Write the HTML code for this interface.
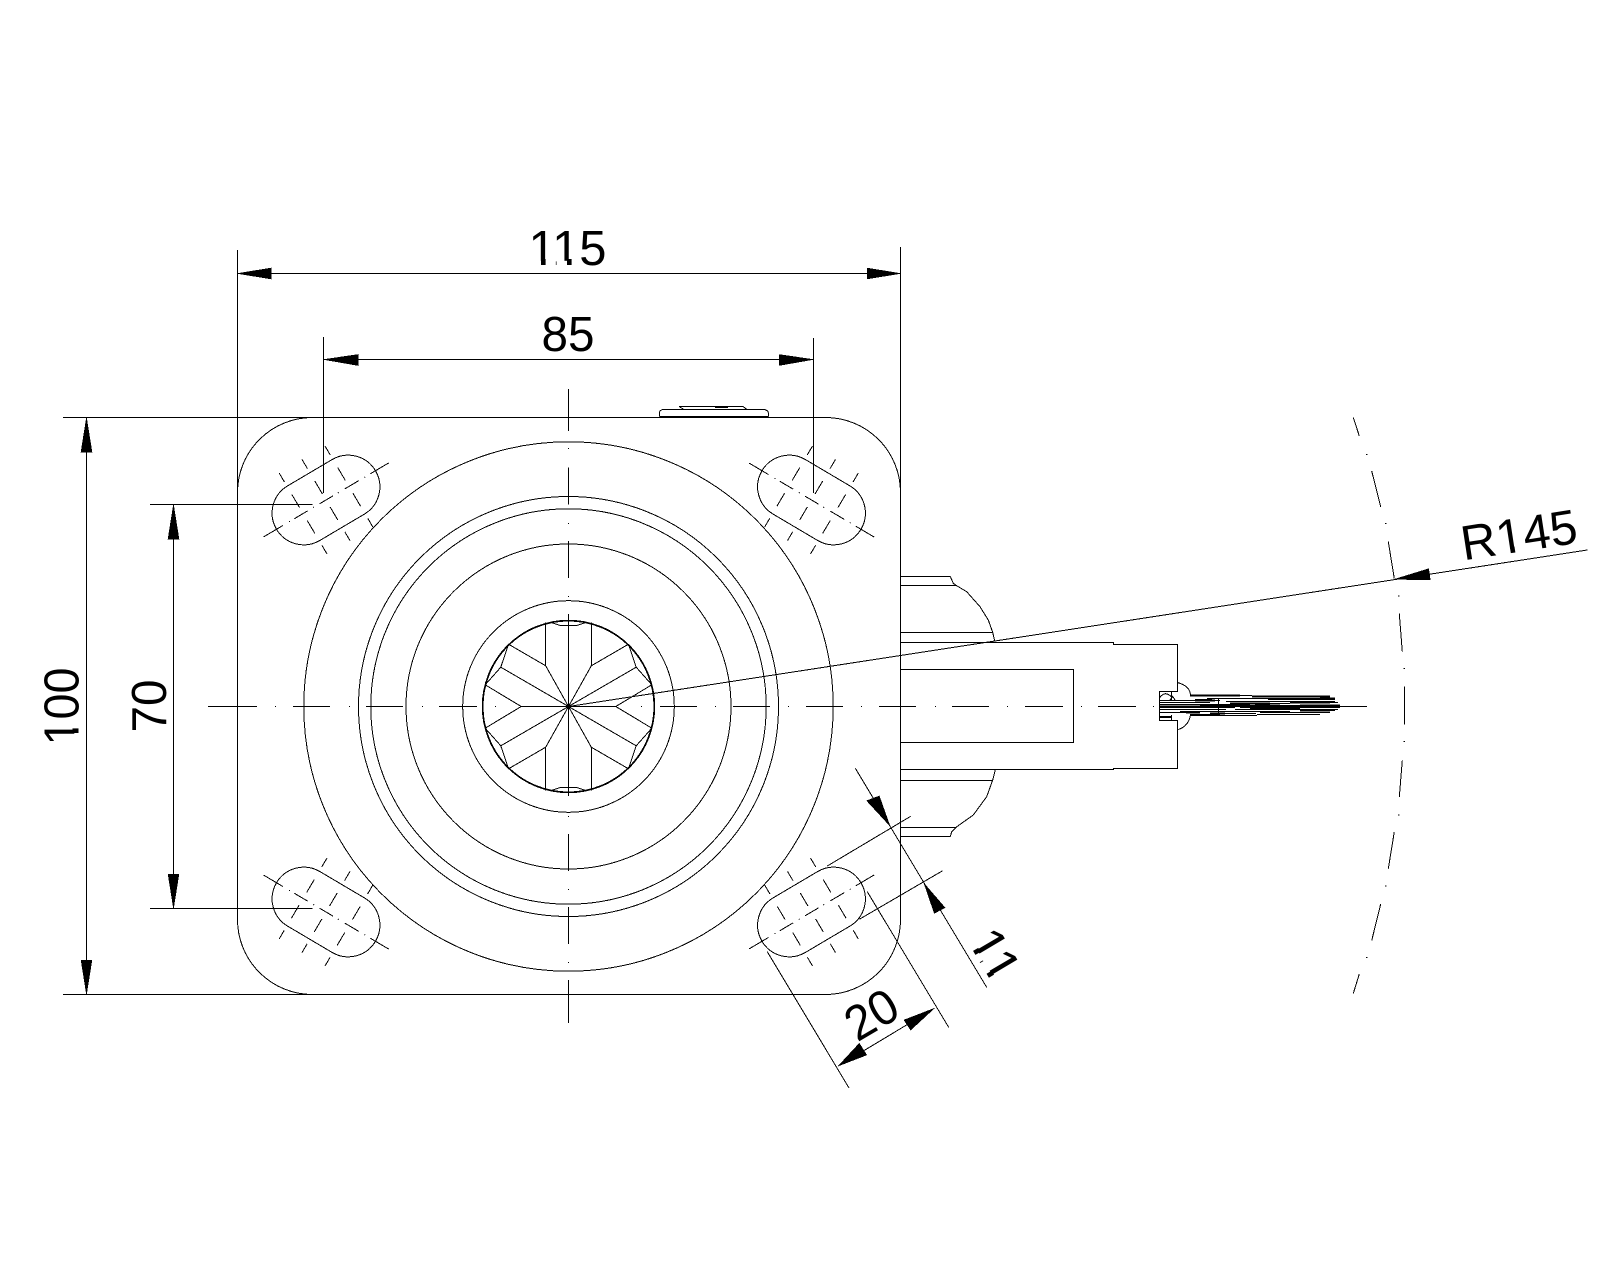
<!DOCTYPE html>
<html>
<head>
<meta charset="utf-8">
<title>Drawing</title>
<style>
html,body{margin:0;padding:0;background:#fff;width:1600px;height:1280px;overflow:hidden}
svg{display:block}
text{font-family:"Liberation Sans",sans-serif;font-size:49px;fill:#000;text-anchor:middle}
.g{fill:none;stroke:#000;stroke-width:1;shape-rendering:crispEdges}
.a{fill:#000;stroke:#000;stroke-width:.5;shape-rendering:crispEdges}
</style>
</head>
<body>
<svg xmlns="http://www.w3.org/2000/svg" width="1600" height="1280" viewBox="0 0 1600 1280">
<rect width="1600" height="1280" fill="#fff"/>
<defs>
<g id="slot">
<rect x="-57.5" y="-31.7" width="115" height="63.4" rx="31.7" ry="31.7"/>
<path d="M-72.5 0H-50M-42.8 0H-41.8M-36.8 0H-21.3M-14.8 0H-13.8M-7.4 0H8.1M13.8 0H14.8M21.7 0H38M44.4 0H45.4M51.6 0H72.9"/>
<path d="M-26.6 -47V-36.6M-26.6 -22V-7M-26.6 8V23M-26.6 37V47"/>
<path d="M0 -47V-36.6M0 -22V-7M0 8V23M0 37V47"/>
<path d="M26.6 -47V-36.6M26.6 -22V-7M26.6 8V23M26.6 37V47"/>
</g>
<g id="q">
<path d="M-22.8 -84V-40.7L0 0M-60 -62.3L-22.8 -40.7M-67.7 -39.3L0 0M-83.3 -21.7L-47.3 0M-60 -62.3L-67.7 -39.3L-83.3 -21.7"/>
<path d="M-17.3 -84L-8.3 -81H0"/>
</g>
</defs>

<g class="g">
<!-- plate outline -->
<path d="M237.5 250V919A75 75 0 0 0 312.5 994.5M237.5 492.5A75 75 0 0 1 312.5 417.5M63 417.5H825.5A75 75 0 0 1 900.5 492.5V247M900.5 492.5V919A75 75 0 0 1 825.5 994.5H63"/>
<!-- plate knob -->
<path d="M659.5 416.5V413Q659.5 409.5 664 409.5H763Q768.5 409.5 768.5 414V416.5M659.5 416.5H768.5M659.5 417.5H768.5M679 406.5H743L747 409.5M679 406.5L684 409.5M701.7 409.5H715M715 407.5H728"/>
<!-- circles -->
<circle cx="568.5" cy="706.5" r="264.7"/>
<circle cx="568.5" cy="706.5" r="210"/>
<circle cx="568.5" cy="706.5" r="197.7"/>
<circle cx="568.5" cy="706.5" r="162.5"/>
<circle cx="568.5" cy="706.5" r="105.8"/>
<circle cx="568.5" cy="706.5" r="86.2"/>
<circle cx="568.5" cy="706.5" r="85.5"/>
<!-- hub star -->
<g transform="translate(568.5 706.5)">
<use href="#q"/>
<use href="#q" transform="scale(-1 1)"/>
<use href="#q" transform="scale(1 -1)"/>
<use href="#q" transform="scale(-1 -1)"/>
</g>
<!-- slots -->
<use href="#slot" transform="translate(326 500) rotate(-30.6)"/>
<use href="#slot" transform="translate(811.5 500) rotate(30.6)"/>
<use href="#slot" transform="translate(326 912) rotate(30.6)"/>
<use href="#slot" transform="translate(811.5 912) rotate(-30.6)"/>
<!-- centre lines -->
<path d="M208 706.5H257M275 706.5H276M293 706.5H330M349 706.5H350M366 706.5H403M422 706.5H423M439 706.5H477M495 706.5H496M521 706.5H616M641 706.5H642M660 706.5H697M715 706.5H716M733 706.5H770M788 706.5H789M806 706.5H843M861 706.5H862M879 706.5H916M935 706.5H936M952 706.5H989M1007 706.5H1008M1025 706.5H1063M1081 706.5H1082M1098 706.5H1136M1153 706.5H1154M1172 706.5H1367"/>
<path d="M568.5 389V431M568.5 448V449M568.5 467.5V504.5M568.5 523V524M568.5 541V578M568.5 596V597M568.5 614V796M568.5 816V817M568.5 834V871M568.5 889V890M568.5 907V944M568.5 962V963M568.5 980V1023"/>
<!-- R145 arc -->
<path d="M1353.3 417.5L1359.3 436M1366 454.5H1367.5M1371.7 471L1380.7 506.8M1385 523.5H1386.5M1388.3 541.7L1394.3 578.6M1398 596H1399.5M1399.3 613.6L1402.3 651.7M1403.5 668.3H1405M1404.5 686.6V724.3M1403.5 741.7H1405M1402.3 760.4L1399.3 797M1398 814.8H1399.5M1394.3 831.8L1388.3 868.7M1385 886.2H1386.5M1380.7 904L1371.7 940.6M1366 957.3H1367.5M1359.3 974L1353.3 993.4"/>
<!-- yoke/wheel side -->
<path d="M900.5 576.5H950.3L953.3 583.3L956 585.3L966.7 591.7L980 606.7L988.3 620L992.7 632.3L994.7 641"/>
<path d="M900.5 585.5H956M900.5 632.5H992.7M900.5 642.5H1113.5V644.5H1177.5V691.5H1159.5V720.5H1177.5V768.5H1113.5V769.5H900.5"/>
<path d="M900.5 669.5H1073.5V742.5H900.5"/>
<path d="M995.3 770L992.7 780L986.7 796.7L973.3 815L956 827.3L951.7 831.7L950.3 836.5H900.5M900.5 780.5H992.7M900.5 827.5H956"/>
<!-- lever -->
<path d="M1177.5 682.5Q1190 686 1190.5 695M1190.7 714Q1189 726 1178.3 729.5"/>
<path d="M1171.5 691.5V700M1159.5 698Q1165 690 1171.5 697M1170 700L1172.7 696.5L1175 700M1159.5 716.5H1171.5M1159.5 717.5H1171.5M1171.5 715V720.5"/>
<path d="M1218.5 699V713.5"/>
<path d="M1190 695.5H1252M1252 696.5H1330M1207 698.5H1330M1159 700.5H1220M1195 699.5H1212M1268 699.5H1335M1226 701.5H1335M1159 702.5H1210M1240 703.5H1290M1300 702.5H1338M1159 704.5H1230M1200 705.5H1340M1159 706.5H1340M1159 707.5H1235M1240 707.5H1340M1159 709.5H1226M1235 709.5H1338M1180 711.5H1290M1300 710.5H1335M1159 712.5H1200M1210 713.5H1256M1285 712.5H1330M1190 714.5H1220M1190 715.5H1257M1257 714.5H1320M1260 712.5H1290"/>
<path stroke-width="2" d="M1190 695.5H1240M1252 696.5H1330M1320 698.5H1335M1195 700.5H1215M1225 705.5H1250M1159 706.5H1200M1255 705.5H1280M1300 705.5H1340M1186 712.5H1200M1210 713.5H1225M1290 702.5H1330M1250 708.5H1300M1300 710.5H1330M1230 703.5H1270"/>
<!-- dimension lines -->
<path d="M237.5 273.5H900.5M323.5 337V493M813.5 338V493M323.5 359.5H813.5"/>
<path d="M86.5 417.5V994.5M150 504.5H312.5M150 908.5H312.5M173.5 504.5V908.5"/>
<path d="M568.5 706.5L1587.3 550"/>
<path d="M827.3 866L910.7 816.3M859.3 919.3L942.7 870.7M855.3 768.3L986.7 987.3M767.3 951.7L849 1088M867.3 891.7L948.7 1027.3M838.3 1066L934.3 1008.3"/>
</g>
<circle cx="568.5" cy="706.5" r="2" fill="#000"/>

<!-- arrowheads -->
<g class="a">
<polygon points="237.5,273.5 271,268 271,279"/>
<polygon points="900.5,273.5 867,268 867,279"/>
<polygon points="323.5,359.5 358,354.5 358,365.5"/>
<polygon points="813.5,359.5 779,354.5 779,365.5"/>
<polygon points="86.5,417.5 81,452 92,452"/>
<polygon points="86.5,994.5 81,960 92,960"/>
<polygon points="173.5,504.5 168,539 179,539"/>
<polygon points="173.5,908.5 168,874 179,874"/>
<polygon points="1394.3,579.3 1428.7,568.7 1430.3,579.9"/>
<polygon points="890,826 866.7,800.7 879.3,796"/>
<polygon points="924,883.3 934.3,913.3 945,907.7"/>
<polygon points="838.3,1066 866.7,1055 859.3,1043.3"/>
<polygon points="934.3,1008.3 904,1020 910.7,1030"/>
</g>

<!-- labels (white strips trim the foot serif from the digit 1) -->
<g transform="translate(567.5 265)">
<text textLength="78" lengthAdjust="spacingAndGlyphs">115</text>
<rect x="-37" y="-4.2" width="23.5" height="5" fill="#fff"/><rect x="-26.5" y="-6" width="4.6" height="6" fill="#000"/>
<rect x="-11" y="-4.2" width="23.5" height="5" fill="#fff"/><rect x="-0.5" y="-6" width="4.6" height="6" fill="#000"/>
</g>
<text x="568" y="351" textLength="53" lengthAdjust="spacingAndGlyphs">85</text>
<g transform="translate(78.5 706.5) rotate(-90)">
<text textLength="78" lengthAdjust="spacingAndGlyphs">100</text>
<rect x="-37" y="-4.2" width="23.5" height="5" fill="#fff"/><rect x="-26.5" y="-6" width="4.6" height="6" fill="#000"/>
</g>
<text transform="translate(166 706) rotate(-90)" textLength="53" lengthAdjust="spacingAndGlyphs">70</text>
<g transform="translate(1521.5 551.5) rotate(-8.7)">
<text textLength="117" lengthAdjust="spacingAndGlyphs">R145</text>
<rect x="-21" y="-4.2" width="23.5" height="5" fill="#fff"/><rect x="-10.8" y="-6" width="4.6" height="6" fill="#000"/>
</g>
<text transform="translate(880 1029) rotate(-30.6)" textLength="53" lengthAdjust="spacingAndGlyphs">20</text>
<g transform="translate(980.5 963.5) rotate(59.4)">
<text textLength="53" lengthAdjust="spacingAndGlyphs">11</text>
<rect x="-24.5" y="-4.2" width="23" height="5" fill="#fff"/><rect x="-14.6" y="-6" width="4.6" height="6" fill="#000"/>
<rect x="1.5" y="-4.2" width="23" height="5" fill="#fff"/><rect x="11.9" y="-6" width="4.6" height="6" fill="#000"/>
</g>
</svg>
</body>
</html>
